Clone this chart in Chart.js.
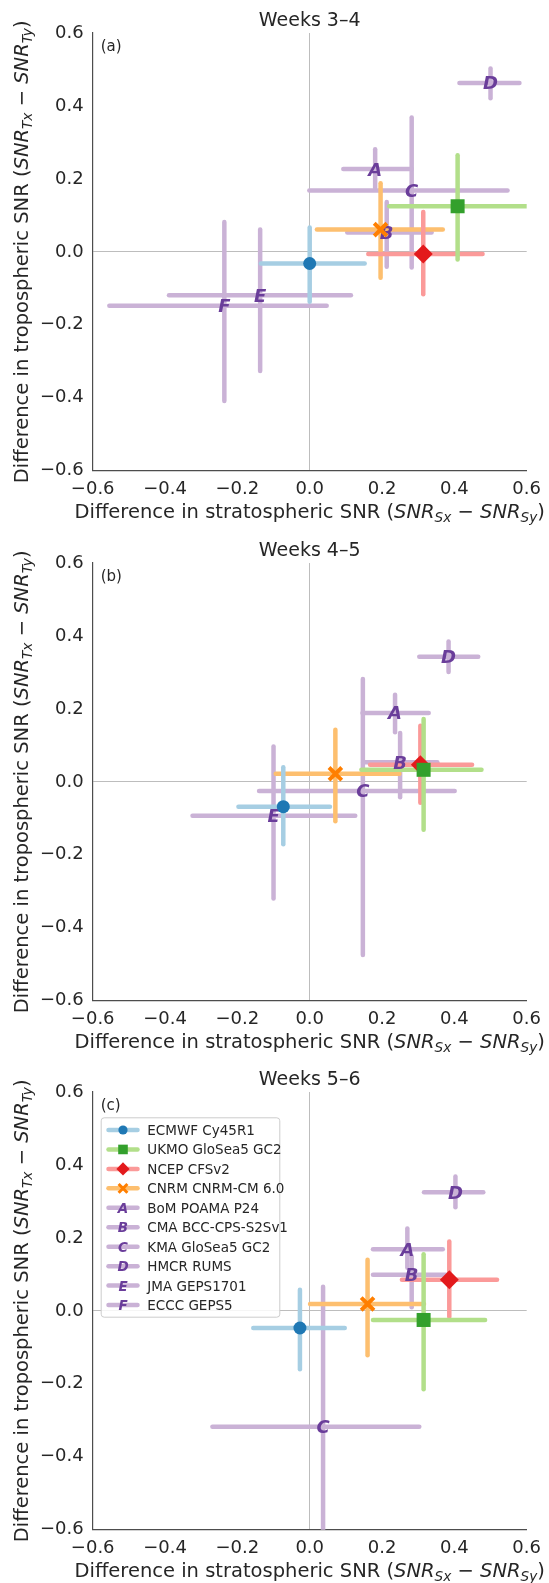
<!DOCTYPE html>
<html>
<head>
<meta charset="utf-8">
<script src="https://cdn.jsdelivr.net/npm/chart.js@4.4.1/dist/chart.umd.min.js"></script>
<style>
  html, body { margin: 0; padding: 0; background: #ffffff; }
  body { position: relative; width: 549px; height: 1583px; overflow: hidden; }
  canvas { position: absolute; left: 0; }
</style>
</head>
<body>
<canvas id="panelA" width="549" height="530" style="top:0px"></canvas>
<canvas id="panelB" width="549" height="529" style="top:530px"></canvas>
<canvas id="panelC" width="549" height="524" style="top:1059px"></canvas>
<script>
// ---- data ---------------------------------------------------------------
const modelNames = ['ECMWF Cy45R1', 'UKMO GloSea5 GC2', 'NCEP CFSv2', 'CNRM CNRM-CM 6.0',
  'BoM POAMA P24', 'CMA BCC-CPS-S2Sv1', 'KMA GloSea5 GC2', 'HMCR RUMS', 'JMA GEPS1701', 'ECCC GEPS5'];
const markerLetters = ['', '', '', '', 'A', 'B', 'C', 'D', 'E', 'F'];
const tickValues = [-0.6, -0.4, -0.2, 0, 0.2, 0.4, 0.6];

// Weeks 3–4: stratospheric (x) and tropospheric (y) SNR differences with ranges
const w34Strat   = [0.000, 0.409, 0.314, 0.196, 0.181, 0.213, 0.282, 0.500, -0.137, -0.236];
const w34Trop    = [-0.032, 0.125, -0.006, 0.061, 0.227, 0.053, 0.168, 0.463, -0.119, -0.148];
const w34StratLo = [-0.135, 0.220, 0.162, 0.020, 0.093, 0.104, -0.001, 0.414, -0.389, -0.554];
const w34StratHi = [0.152, 0.602, 0.478, 0.368, 0.282, 0.337, 0.547, 0.580, 0.114, 0.047];
const w34TropLo  = [-0.137, -0.021, -0.116, -0.071, 0.176, -0.041, -0.043, 0.421, -0.327, -0.409];
const w34TropHi  = [0.067, 0.265, 0.109, 0.188, 0.281, 0.137, 0.368, 0.503, 0.061, 0.082];

// Weeks 4–5
const w45Strat   = [-0.073, 0.315, 0.306, 0.071, 0.236, 0.250, 0.147, 0.384, -0.100, null];
const w45Trop    = [-0.068, 0.033, 0.047, 0.022, 0.189, 0.054, -0.025, 0.343, -0.093, null];
const w45StratLo = [-0.197, 0.143, 0.167, -0.094, 0.146, 0.148, -0.140, 0.303, -0.324, null];
const w45StratHi = [0.056, 0.475, 0.449, 0.248, 0.329, 0.353, 0.401, 0.466, 0.126, null];
const w45TropLo  = [-0.171, -0.131, -0.057, -0.108, 0.136, -0.042, -0.475, 0.301, -0.320, null];
const w45TropHi  = [0.040, 0.172, 0.154, 0.143, 0.239, 0.134, 0.282, 0.385, 0.097, null];

// Weeks 5–6
const w56Strat   = [-0.027, 0.315, 0.386, 0.160, 0.270, 0.282, 0.037, 0.403, null, null];
const w56Trop    = [-0.047, -0.025, 0.085, 0.019, 0.169, 0.099, -0.318, 0.325, null, null];
const w56StratLo = [-0.156, 0.175, 0.255, 0.001, 0.175, 0.175, -0.269, 0.316, null, null];
const w56StratHi = [0.097, 0.485, 0.518, 0.316, 0.368, 0.377, 0.303, 0.480, null, null];
const w56TropLo  = [-0.160, -0.215, -0.017, -0.122, 0.118, 0.010, -0.620, 0.284, null, null];
const w56TropHi  = [0.058, 0.155, 0.190, 0.140, 0.226, 0.150, 0.066, 0.368, null, null];

// ---- styling ------------------------------------------------------------
const FONT = '"DejaVu Sans", sans-serif';
const TEXT = '#262626';
const barColours  = ['#a6cee3', '#b2df8a', '#fb9a99', '#fdbf6f', '#cab2d6', '#cab2d6', '#cab2d6', '#cab2d6', '#cab2d6', '#cab2d6'];
const markColours = ['#1f78b4', '#33a02c', '#e31a1c', '#ff7f00', '#6a3d9a', '#6a3d9a', '#6a3d9a', '#6a3d9a', '#6a3d9a', '#6a3d9a'];
const markShapes  = ['circle', 'rect', 'rectRot', 'crossRot', null, null, null, null, null, null];
const markRadius  = [6.5, 9.9, 9.5, 9, 0, 0, 0, 0, 0, 0];
const BAR_WIDTH = 4.5;
const AREA = { left: 92.7, right: 531, top: 33, bottom: 470.7 };

function fmtTick(v) {
  if (Math.abs(v) < 1e-9) return '0.0';
  return (v < 0 ? '\u2212' : '') + Math.abs(v).toFixed(1);
}

// Error bars go underneath all markers; within each layer the later models
// are drawn first so the earlier ones end up on top.
function buildDatasets(sx, ty, sxLo, sxHi, tyLo, tyHi) {
  const out = [];
  let layer = 1000;
  for (let i = modelNames.length - 1; i >= 0; i--) {
    if (sx[i] === null) continue;
    out.push({
      type: 'line', data: [{ x: sxLo[i], y: ty[i] }, { x: sxHi[i], y: ty[i] }],
      borderColor: barColours[i], borderWidth: BAR_WIDTH, borderCapStyle: 'round',
      pointRadius: 0, fill: false, clip: 0, order: layer--
    });
    out.push({
      type: 'line', data: [{ x: sx[i], y: tyLo[i] }, { x: sx[i], y: tyHi[i] }],
      borderColor: barColours[i], borderWidth: BAR_WIDTH, borderCapStyle: 'round',
      pointRadius: 0, fill: false, clip: 0, order: layer--
    });
  }
  for (let i = modelNames.length - 1; i >= 0; i--) {
    if (sx[i] === null) continue;
    const letter = markerLetters[i];
    out.push({
      type: 'scatter', data: [{ x: sx[i], y: ty[i] }],
      pointStyle: letter ? 'circle' : markShapes[i],
      pointRadius: letter ? 0 : markRadius[i],
      pointHoverRadius: letter ? 0 : markRadius[i],
      backgroundColor: markColours[i], borderColor: markColours[i],
      borderWidth: markShapes[i] === 'crossRot' ? 4 : 0,
      letter: letter, clip: false, order: layer--
    });
  }
  return out;
}

// Letter markers, drawn in sequence with the other datasets
const letterMarks = {
  id: 'letterMarks',
  afterDatasetDraw(chart, args) {
    const ds = chart.data.datasets[args.index];
    if (!ds.letter) return;
    const ctx = chart.ctx;
    ctx.save();
    ctx.font = 'italic bold 18px ' + FONT;
    ctx.fillStyle = ds.backgroundColor;
    ctx.textAlign = 'center';
    ctx.textBaseline = 'alphabetic';
    args.meta.data.forEach(pt => ctx.fillText(ds.letter, pt.x, pt.y + 6.5));
    ctx.restore();
  }
};

// Mixed upright / italic / subscript label text
function richSegments(layer) {
  return [
    { t: 'Difference in ' + layer + ' SNR (' },
    { t: 'SNR', it: true }, { t: layer === 'stratospheric' ? 'Sx' : 'Tx', it: true, sub: true },
    { t: ' \u2212 ' },
    { t: 'SNR', it: true }, { t: layer === 'stratospheric' ? 'Sy' : 'Ty', it: true, sub: true },
    { t: ')' }
  ];
}
function segFont(s, size) {
  const sz = s.sub ? size * 0.7 : size;
  return (s.it ? 'italic ' : '') + sz + 'px ' + FONT;
}
function drawRich(ctx, segs, size, cx, baseY) {
  let total = 0;
  segs.forEach(s => { ctx.font = segFont(s, size); total += ctx.measureText(s.t).width; });
  let x = cx - total / 2;
  ctx.textAlign = 'left';
  ctx.textBaseline = 'alphabetic';
  segs.forEach(s => {
    ctx.font = segFont(s, size);
    ctx.fillText(s.t, x, baseY + (s.sub ? size * 0.22 : 0));
    x += ctx.measureText(s.t).width;
  });
}

function drawLegendMark(ctx, i, x, y) {
  const c = markColours[i];
  ctx.fillStyle = c; ctx.strokeStyle = c;
  const shape = markShapes[i];
  if (markerLetters[i]) {
    ctx.font = 'italic bold 13.5px ' + FONT;
    ctx.textAlign = 'center'; ctx.textBaseline = 'alphabetic';
    ctx.fillText(markerLetters[i], x, y + 5);
  } else if (shape === 'circle') {
    ctx.beginPath(); ctx.arc(x, y, 4.6, 0, Math.PI * 2); ctx.fill();
  } else if (shape === 'rect') {
    ctx.fillRect(x - 4.8, y - 4.8, 9.6, 9.6);
  } else if (shape === 'rectRot') {
    ctx.beginPath(); ctx.moveTo(x - 6.6, y); ctx.lineTo(x, y - 6.6); ctx.lineTo(x + 6.6, y); ctx.lineTo(x, y + 6.6);
    ctx.closePath(); ctx.fill();
  } else if (shape === 'crossRot') {
    ctx.lineWidth = 3; ctx.beginPath();
    ctx.moveTo(x - 4.4, y - 4.4); ctx.lineTo(x + 4.4, y + 4.4);
    ctx.moveTo(x + 4.4, y - 4.4); ctx.lineTo(x - 4.4, y + 4.4); ctx.stroke();
  }
}

// Titles, panel tags, axis titles and the legend
const decorations = {
  id: 'decorations',
  afterDraw(chart, args, opts) {
    const ctx = chart.ctx;
    const a = chart.chartArea;
    const cx = (a.left + a.right) / 2;
    ctx.save();
    ctx.fillStyle = TEXT;
    ctx.font = '19px ' + FONT;
    ctx.textAlign = 'center';
    ctx.textBaseline = 'alphabetic';
    ctx.fillText(opts.title, cx, 26);

    ctx.font = '15px ' + FONT;
    ctx.textAlign = 'left';
    ctx.fillText(opts.tag, a.left + 8, 51);

    drawRich(ctx, richSegments('stratospheric'), 19.5, cx, a.bottom + 47.5);
    ctx.save();
    ctx.translate(28, (a.top + a.bottom) / 2);
    ctx.rotate(-Math.PI / 2);
    drawRich(ctx, richSegments('tropospheric'), 19.5, 0, 0);
    ctx.restore();

    if (opts.legend) {
      const L = { x: 100.7, y: 58.3, w: 178.6, h: 199.4 };
      ctx.fillStyle = 'rgba(255,255,255,0.85)';
      ctx.strokeStyle = '#cccccc';
      ctx.lineWidth = 1;
      ctx.beginPath();
      ctx.roundRect(L.x + 0.5, L.y + 0.5, L.w, L.h, 3);
      ctx.fill(); ctx.stroke();
      modelNames.forEach((name, i) => {
        const ry = 71 + i * 19.45;
        ctx.strokeStyle = barColours[i];
        ctx.lineWidth = 4.5; ctx.lineCap = 'round';
        ctx.beginPath(); ctx.moveTo(108.5, ry); ctx.lineTo(137.5, ry); ctx.stroke();
        ctx.lineCap = 'butt';
        drawLegendMark(ctx, i, 123, ry);
        ctx.fillStyle = TEXT;
        ctx.font = '13.5px ' + FONT;
        ctx.textAlign = 'left'; ctx.textBaseline = 'alphabetic';
        ctx.fillText(name, 147.3, ry + 5);
      });
    }
    ctx.restore();
  }
};

function axisOptions(isX, canvasH) {
  return {
    type: 'linear', min: -0.6, max: 0.6,
    afterBuildTicks: s => { s.ticks = tickValues.map(v => ({ value: v })); },
    afterFit: s => {
      if (isX) s.height = canvasH - AREA.bottom; else s.width = AREA.left;
    },
    grid: {
      drawTicks: false, lineWidth: 1,
      color: c => (c.tick && Math.abs(c.tick.value) < 1e-9) ? '#bdbdbd' : 'rgba(0,0,0,0)'
    },
    border: { display: true, color: '#4d4d4d', width: 1.2 },
    ticks: {
      autoSkip: false, maxRotation: 0, color: TEXT, padding: isX ? 8 : 9,
      font: { family: FONT, size: 18 },
      callback: v => fmtTick(v)
    },
    title: { display: false }
  };
}

function makePanel(id, title, tag, legend, series) {
  const canvas = document.getElementById(id);
  const H = canvas.height;
  return new Chart(canvas, {
    type: 'scatter',
    data: { datasets: buildDatasets(...series) },
    options: {
      responsive: false, animation: false, devicePixelRatio: 1, events: [],
      layout: { padding: { top: AREA.top, right: 549 - AREA.right, left: 0, bottom: 0 } },
      scales: { x: axisOptions(true, H), y: axisOptions(false, H) },
      plugins: {
        legend: { display: false }, tooltip: { enabled: false }, title: { display: false },
        decorations: { title, tag, legend }
      }
    },
    plugins: [letterMarks, decorations]
  });
}

makePanel('panelA', 'Weeks 3\u20134', '(a)', false,
  [w34Strat, w34Trop, w34StratLo, w34StratHi, w34TropLo, w34TropHi]);
makePanel('panelB', 'Weeks 4\u20135', '(b)', false,
  [w45Strat, w45Trop, w45StratLo, w45StratHi, w45TropLo, w45TropHi]);
makePanel('panelC', 'Weeks 5\u20136', '(c)', true,
  [w56Strat, w56Trop, w56StratLo, w56StratHi, w56TropLo, w56TropHi]);
</script>
</body>
</html>
